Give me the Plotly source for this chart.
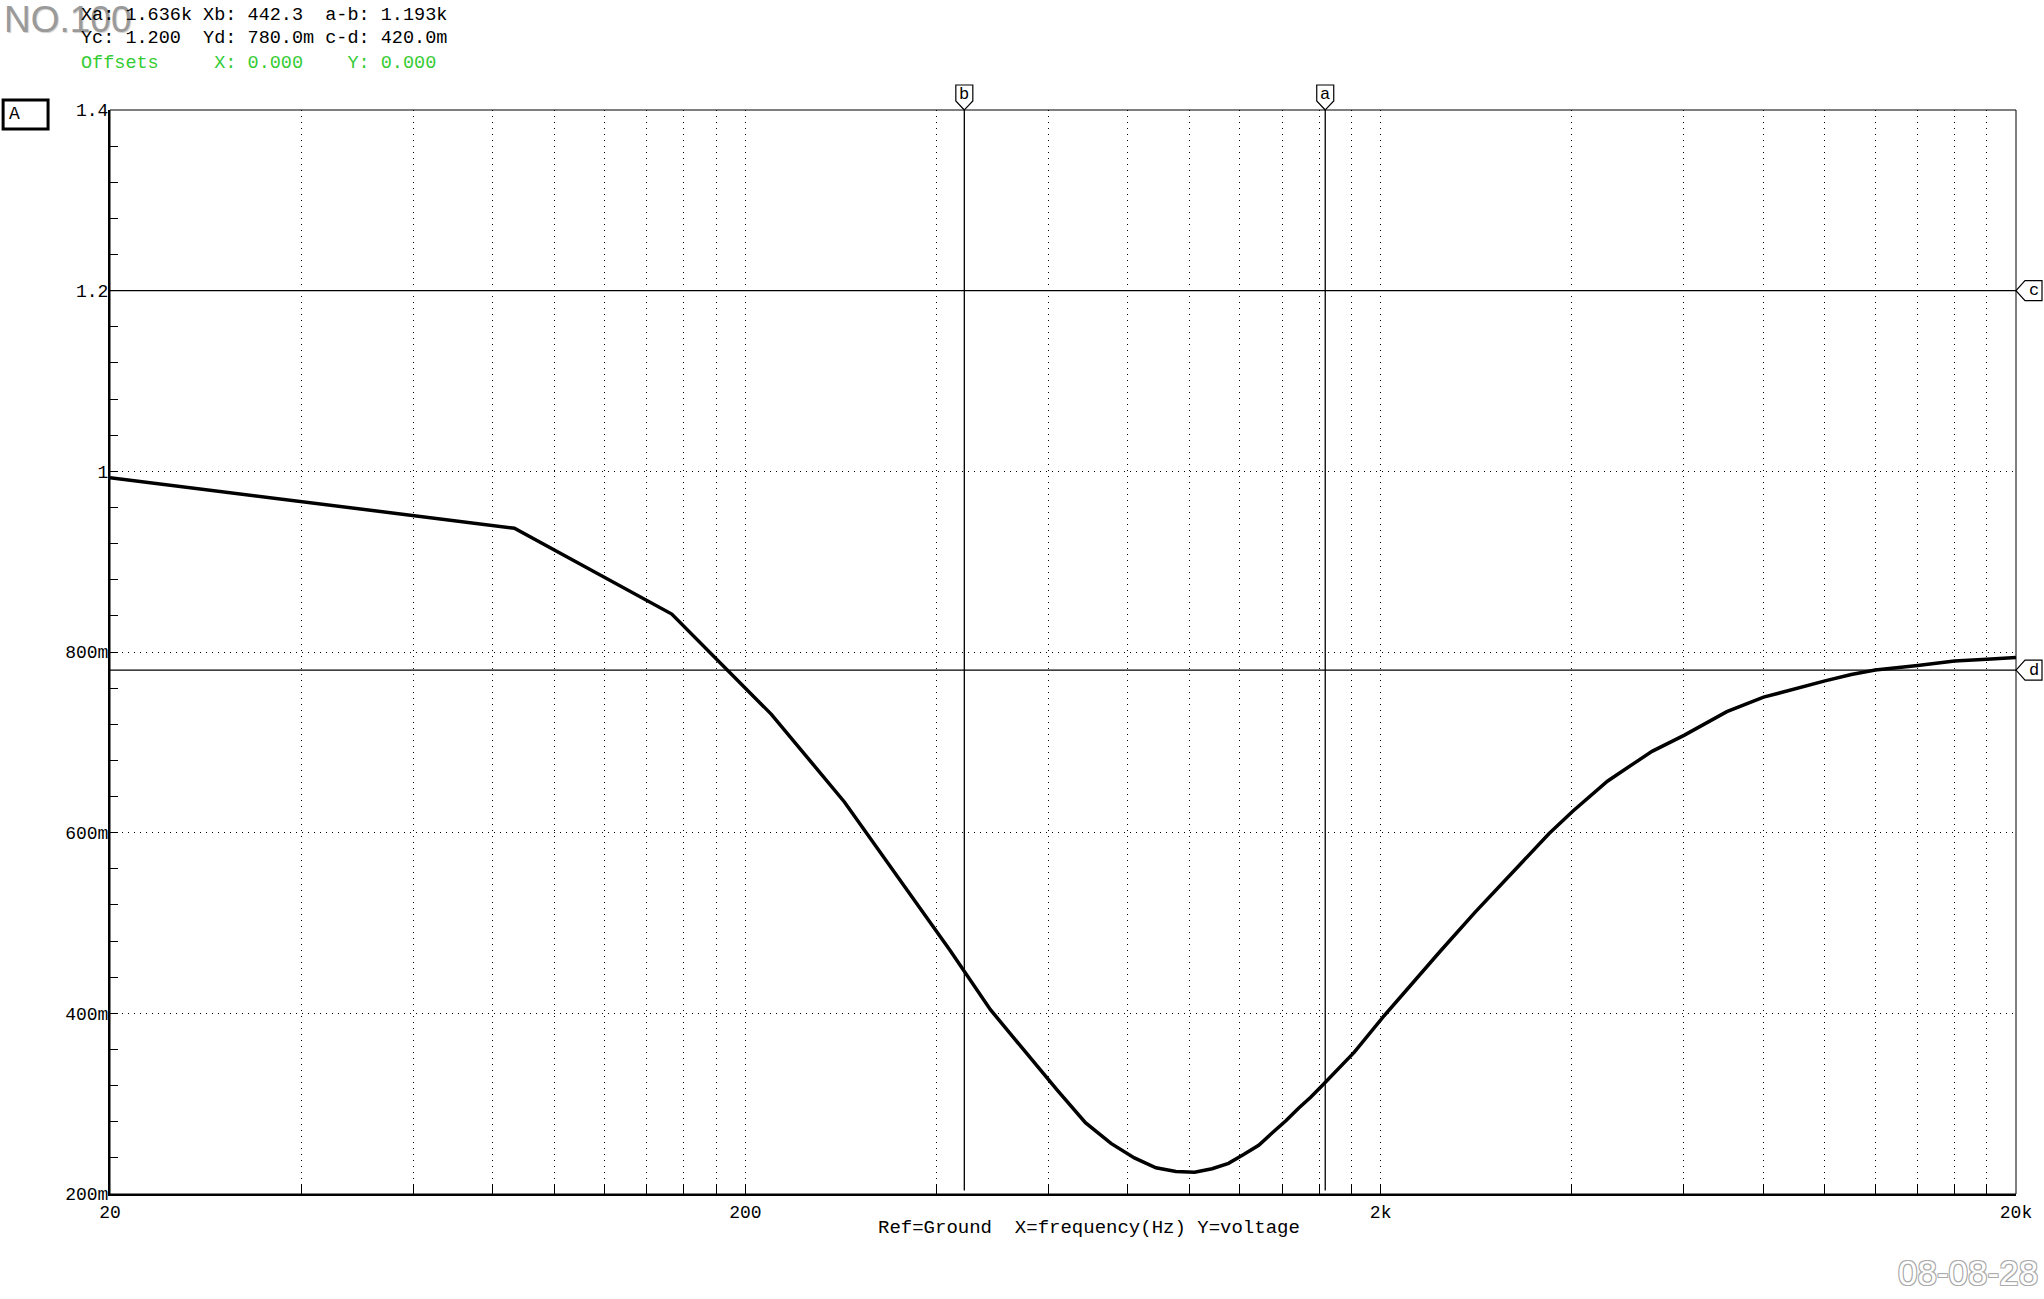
import math
import plotly.graph_objects as go

# sweep (frequency in Hz, output in V)
freq_hz = [20, 86.6, 153.2, 219.8, 286.4, 353.0, 419.6, 486.2, 552.8, 619.4,
           686.0, 752.6, 819.2, 885.8, 952.4, 1019, 1085.6, 1152.2, 1218.8,
           1285.4, 1352, 1418.6, 1485.2, 1551.8, 1618.4, 1685, 1818, 2018,
           2284, 2484, 2817, 3083, 3416, 3683, 4016, 4549, 5015, 5348, 6014,
           7013, 8012, 9011, 10010, 11009, 12008, 14006, 16004, 18002, 20000]
voltage_v = [0.993, 0.937, 0.842, 0.731, 0.634, 0.544, 0.470, 0.404, 0.356,
             0.315, 0.279, 0.256, 0.240, 0.229, 0.225, 0.224, 0.228, 0.234,
             0.244, 0.254, 0.268, 0.281, 0.295, 0.307, 0.320, 0.333, 0.357,
             0.396, 0.440, 0.469, 0.512, 0.541, 0.575, 0.599, 0.624, 0.657,
             0.677, 0.690, 0.708, 0.734, 0.750, 0.760, 0.768, 0.775, 0.780,
             0.785, 0.790, 0.792, 0.794]

# cursors
cursor_x = {"b": 442.3, "a": 1636}
cursor_y = {"c": 1.2, "d": 0.78}

x_tickvals = [20, 200, 2000, 20000]
x_ticktext = ["20", "200", "2k", "20k"]
x_minor = [40, 60, 80, 100, 120, 140, 160, 180,
           400, 600, 800, 1000, 1200, 1400, 1600, 1800,
           4000, 6000, 8000, 10000, 12000, 14000, 16000, 18000]
y_tickvals = [0.2, 0.4, 0.6, 0.8, 1.0, 1.2, 1.4]
y_ticktext = ["200m", "400m", "600m", "800m", "1", "1.2", "1.4"]

readout = ["Xa: 1.636k Xb: 442.3  a-b: 1.193k",
           "Yc: 1.200  Yd: 780.0m c-d: 420.0m"]
offsets = "Offsets     X: 0.000    Y: 0.000"

W, H = 2044, 1299
L, R, T, B = 110, 26, 110, 105
MONO = "Liberation Mono"


def px(x):
    return (x - L) / (W - L - R)


def py(y):
    return (H - B - y) / (H - T - B)


def keep_spaces(s):
    return s.replace(" ", "\u00a0")


fig = go.Figure()

fig.add_trace(go.Scatter(x=freq_hz, y=voltage_v, mode="lines",
                         line=dict(color="black", width=3.5),
                         showlegend=False, hoverinfo="skip"))

# cursor lines
for xc in cursor_x.values():
    fig.add_trace(go.Scatter(x=[xc, xc], y=[0.204, 1.4], mode="lines",
                             line=dict(color="black", width=1.3),
                             showlegend=False, hoverinfo="skip"))
for yc in cursor_y.values():
    fig.add_trace(go.Scatter(x=[20, 20000], y=[yc, yc], mode="lines",
                             line=dict(color="black", width=1.3),
                             showlegend=False, hoverinfo="skip"))

shapes = [
    dict(type="rect", xref="paper", yref="paper", x0=0, x1=1, y0=0, y1=1,
         line=dict(color="black", width=1)),
    dict(type="rect", xref="paper", yref="paper", x0=px(3), x1=px(48),
         y0=py(129), y1=py(100), line=dict(color="black", width=3)),
]
annotations = []

# cursor flags: pointing down on top edge (a, b), pointing left on right edge (c, d)
for name, xc in cursor_x.items():
    shapes.append(dict(
        type="path", xref="x", yref="paper",
        xsizemode="pixel", ysizemode="pixel",
        xanchor=xc, yanchor=1,
        path="M 0 0 L -8.5 9 L -8.5 25 L 8.5 25 L 8.5 9 Z",
        fillcolor="white", line=dict(color="black", width=1.2),
        layer="above"))
    annotations.append(dict(
        text=name, xref="x", yref="paper", x=math.log10(xc), y=1,
        yshift=16, xanchor="center", yanchor="middle", showarrow=False,
        font=dict(family=MONO, size=17, color="black")))
for name, yc in cursor_y.items():
    shapes.append(dict(
        type="path", xref="paper", yref="y",
        xsizemode="pixel", ysizemode="pixel",
        xanchor=1, yanchor=yc,
        path="M 0 0 L 9 10 L 26 10 L 26 -10 L 9 -10 Z",
        fillcolor="white", line=dict(color="black", width=1.2),
        layer="above"))
    annotations.append(dict(
        text=name, xref="paper", yref="y", x=1, y=yc,
        xshift=18, xanchor="center", yanchor="middle", showarrow=False,
        font=dict(family=MONO, size=17, color="black")))

fig.update_xaxes(
    type="log", range=[1.30103, 4.30103],
    tickvals=x_tickvals, ticktext=x_ticktext,
    ticks="inside", ticklen=10, tickcolor="black", tickwidth=1,
    showgrid=True, gridcolor="black", gridwidth=1, griddash="1px,5px",
    minor=dict(tickvals=x_minor, ticks="inside", ticklen=10,
               tickcolor="black", tickwidth=1, showgrid=True,
               gridcolor="black", gridwidth=1, griddash="1px,5px"),
    showline=True, linecolor="black", linewidth=2,
    tickfont=dict(family=MONO, size=18, color="black"),
    zeroline=False)
fig.update_yaxes(
    range=[0.2, 1.4], tickvals=y_tickvals, ticktext=y_ticktext,
    ticks="inside", ticklen=8, tickcolor="black", tickwidth=1,
    showgrid=True, gridcolor="black", gridwidth=1, griddash="1px,5px",
    minor=dict(dtick=0.04, tick0=0.2, ticks="inside", ticklen=8,
               tickcolor="black", tickwidth=1, showgrid=False),
    showline=True, linecolor="black", linewidth=2,
    tickfont=dict(family=MONO, size=18, color="black"),
    ticklabelstandoff=-4, zeroline=False)

texts = [
    dict(text="NO.100", x=px(2), y=py(20), xanchor="left", yanchor="middle",
         font=dict(family="Liberation Sans", size=37, color="#9a9a9a",
                   shadow="1px 1px 1px #d0d0d0")),
    dict(text=keep_spaces(readout[0]), x=px(79), y=py(15),
         xanchor="left", yanchor="middle",
         font=dict(family=MONO, size=18.5, color="black")),
    dict(text=keep_spaces(readout[1]), x=px(79), y=py(39),
         xanchor="left", yanchor="middle",
         font=dict(family=MONO, size=18.5, color="black")),
    dict(text=keep_spaces(offsets), x=px(79), y=py(63),
         xanchor="left", yanchor="middle",
         font=dict(family=MONO, size=18.5, color="#33cc33")),
    dict(text="A", x=px(7), y=py(114), xanchor="left", yanchor="middle",
         font=dict(family=MONO, size=18, color="black")),
    dict(text=keep_spaces("Ref=Ground  X=frequency(Hz) Y=voltage"),
         x=px(1090), y=py(1228), xanchor="center", yanchor="middle",
         font=dict(family=MONO, size=19, color="black")),
    dict(text="08-08-28", x=px(2042), y=py(1272), xanchor="right",
         yanchor="middle",
         font=dict(family="Liberation Sans", size=35, color="white",
                   shadow="-1px -1px 0 #aaa, 1px -1px 0 #aaa, "
                          "-1px 1px 0 #aaa, 1px 1px 0 #aaa")),
]
for a in texts:
    a.update(xref="paper", yref="paper", showarrow=False)
annotations += texts

fig.update_layout(
    width=W, height=H, autosize=False,
    margin=dict(l=L, r=R, t=T, b=B),
    paper_bgcolor="white", plot_bgcolor="white",
    annotations=annotations, shapes=shapes,
    showlegend=False)

fig.write_html("out.html", config={"displayModeBar": False},
               post_script="document.body.style.margin='0px';")
